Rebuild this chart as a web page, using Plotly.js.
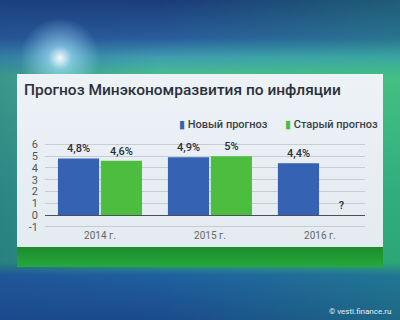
<!DOCTYPE html>
<html><head><meta charset="utf-8">
<script src="https://cdn.plot.ly/plotly-3.0.1.min.js"></script>
<style>
html,body{margin:0;padding:0;width:400px;height:320px;overflow:hidden;}
body{background:
 radial-gradient(circle at 60px 58px, rgba(255,255,255,0.95) 0px, rgba(170,230,255,0.6) 12px, rgba(60,140,220,0) 40px),
 linear-gradient(90deg, rgba(30,70,140,0.35) 0%, rgba(30,70,140,0) 40%, rgba(40,190,110,0.25) 100%),
 linear-gradient(180deg, #1b3c78 0%, #2a5c9c 12%, #3f9fb0 18%, #4cc08a 24%, #34a882 60%, #2f9f7a 82%, #1f5fa0 86%, #1a4b8c 100%);}
#panel{position:absolute;left:17px;top:74px;width:366px;height:173px;background:linear-gradient(180deg,#edf2f6 0%,#e3ebf1 100%);}
#strip{position:absolute;left:17px;top:247px;width:366px;height:20px;background:linear-gradient(180deg,#1d8a2e,#25a83c);}
#chart{position:absolute;left:0;top:0;width:400px;height:320px;}
</style></head>
<body>
<div id="panel"></div><div id="strip"></div>
<div id="chart"></div>
<script>
var categories = ['2014 г.', '2015 г.', '2016 г.'];
var seriesNames = ['Новый прогноз', 'Старый прогноз'];
var newForecast = [4.8, 4.9, 4.4];
var oldForecast = [4.6, 5.0, 0];
var newLabels = ['4,8%', '4,9%', '4,4%'];
var oldLabels = ['4,6%', '5%', '?'];
var yTicks = [-1, 0, 1, 2, 3, 4, 5, 6];
var colors = ['#3562b3', '#4cbd3f'];

var labelFont = {family: 'Roboto, sans-serif', size: 11, weight: 500, color: '#2a2f3a'};
var traces = [
  {type: 'bar', name: seriesNames[0], x: categories, y: newForecast, text: newLabels,
   textposition: 'outside', textfont: labelFont, cliponaxis: false,
   marker: {color: colors[0], line: {width: 0}}},
  {type: 'bar', name: seriesNames[1], x: categories, y: oldForecast, text: oldLabels,
   textposition: 'outside', textfont: labelFont, cliponaxis: false,
   marker: {color: colors[1], line: {width: 0}}}
];
var legendFont = {family: 'Roboto, sans-serif', size: 11, weight: 500, color: '#3a3f48'};
var legendX = [(177 - 45) / 320, (283 - 45) / 320];
var annotations = seriesNames.map(function (n, i) {
  return {text: '<span style="color:' + colors[i] + '">▮</span> ' + n,
          xref: 'paper', yref: 'paper', x: legendX[i], y: (228 - 124) / 86,
          xanchor: 'left', yanchor: 'middle', showarrow: false, font: legendFont};
});
annotations.push({text: '© vesti.finance.ru', xref: 'paper', yref: 'paper',
                 x: (393 - 45) / 320, y: (228 - 311) / 86, xanchor: 'right', yanchor: 'middle',
                 showarrow: false, font: {family: 'Roboto, sans-serif', size: 8, color: '#e8eef5'}});
var layout = {
  width: 400, height: 320,
  margin: {l: 45, r: 35, t: 142, b: 92},
  paper_bgcolor: 'rgba(0,0,0,0)', plot_bgcolor: 'rgba(0,0,0,0)',
  barmode: 'group', bargap: 0.22, bargroupgap: 0.04, showlegend: false,
  font: {family: 'Roboto, sans-serif', color: '#444'},
  title: {text: 'Прогноз Минэкономразвития по инфляции', x: 0.06, xanchor: 'left',
          xref: 'container', yref: 'container', y: 1 - 90/320, yanchor: 'middle',
          font: {family: 'Roboto, sans-serif', size: 15.5, weight: 500, color: '#2b303a'}},
  xaxis: {type: 'category', range: [-0.5, 2.41], showgrid: false, showline: false,
          ticks: '', tickfont: {size: 10, color: '#666'}},
  yaxis: {range: [-1.1, 6.2], tickvals: yTicks, ticktext: yTicks.map(String),
          showgrid: true, gridcolor: '#c9cdd2', gridwidth: 1,
          zeroline: true, zerolinecolor: '#4a4f58', zerolinewidth: 1,
          showline: false, ticks: '', ticklabelstandoff: 6,
          tickfont: {size: 11, color: '#555'}},
  annotations: annotations
};
Plotly.newPlot('chart', traces, layout, {displayModeBar: false, staticPlot: true});
</script>
</body></html>
